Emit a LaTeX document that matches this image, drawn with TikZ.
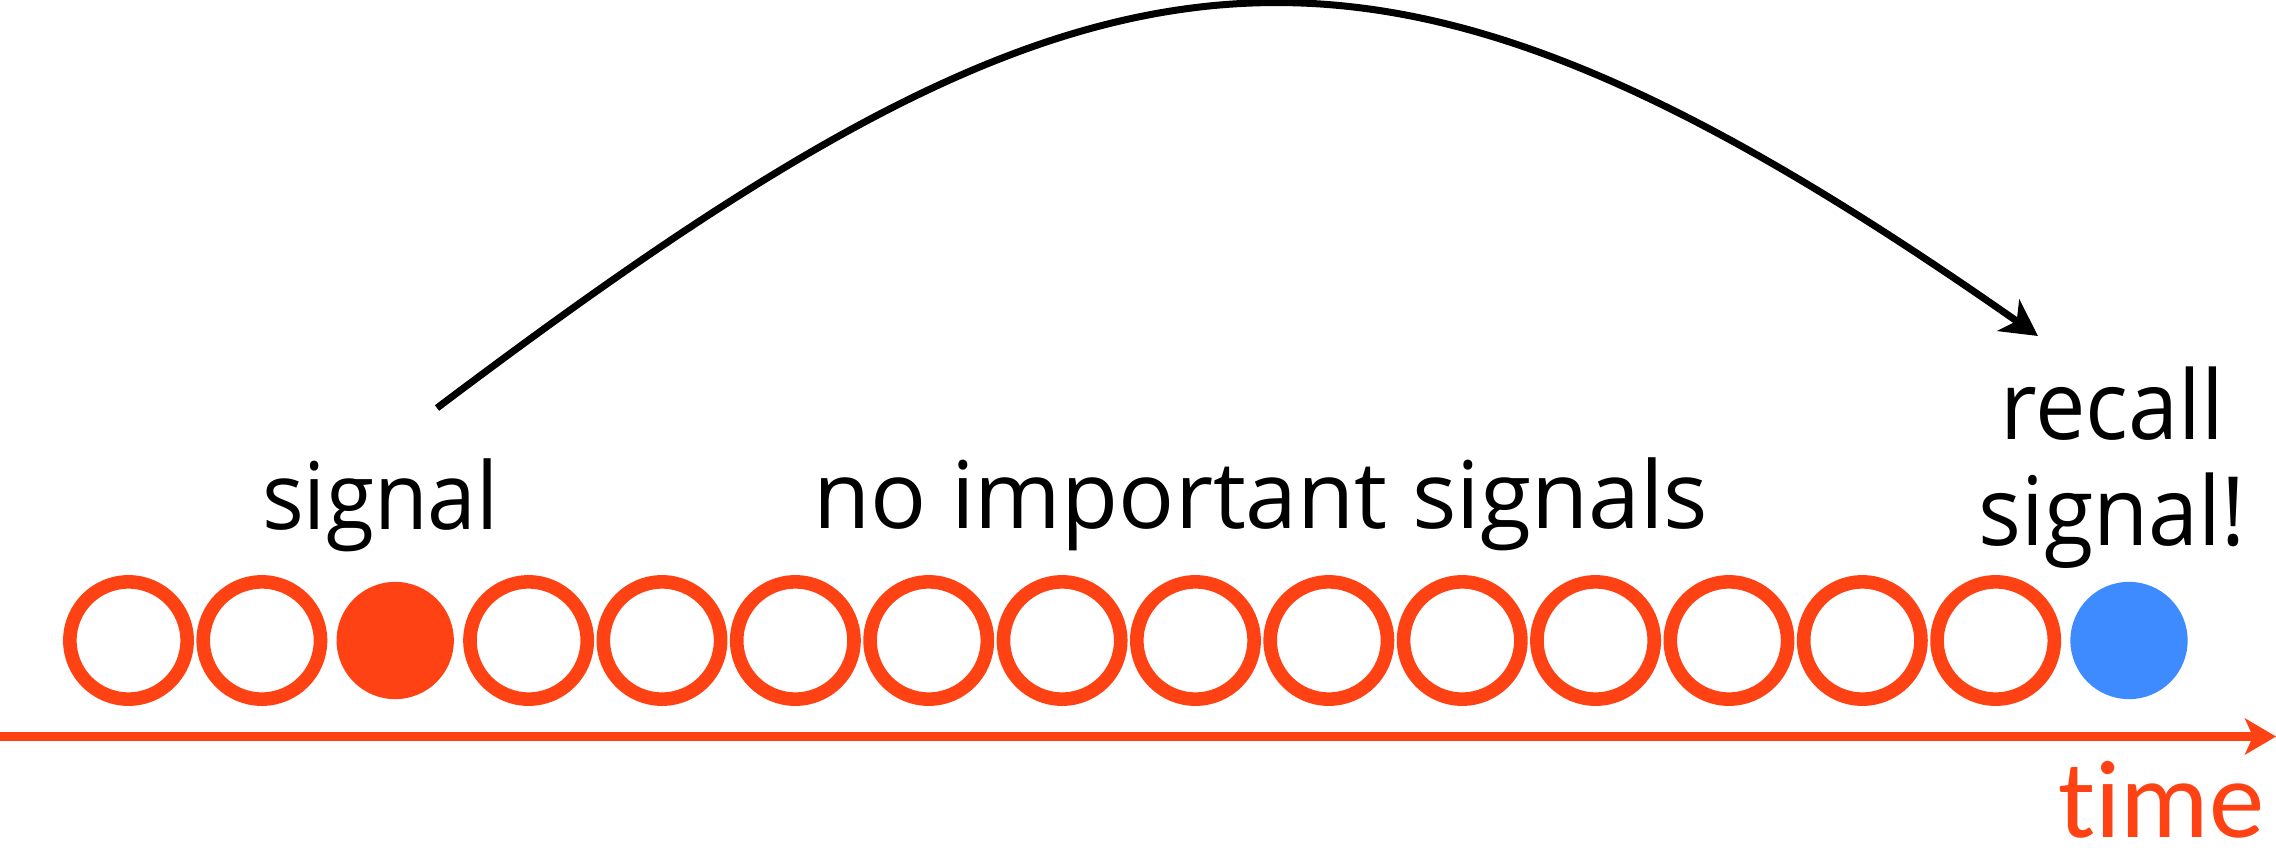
\documentclass[tikz,border=0pt]{standalone}
\usepackage{fontspec}
\setmainfont{Open Sans}[FakeStretch=0.94]
\newfontfamily\quietfont{Open Sans}
\newfontfamily\timefont{Carlito}[Ligatures=NoCommon]
\usetikzlibrary{arrows.meta}
\definecolor{sigorange}{HTML}{FF4214}
\definecolor{recallblue}{HTML}{3E8BFF}

\begin{document}
\begin{tikzpicture}[
    x=0.01cm, y=-0.01cm,
    slot/.style      = {circle, draw=sigorange, line width=1.36mm,
                        minimum size=1.172cm, inner sep=0pt},
    hit/.style       = {circle, fill=sigorange, minimum size=1.172cm, inner sep=0pt},
    query/.style     = {circle, fill=recallblue, minimum size=1.172cm, inner sep=0pt},
    lbl/.style       = {inner sep=0pt, anchor=base,
                        font=\fontsize{26.5}{30.1}\selectfont},
    timeline/.style  = {-{Stealth[length=3.1mm, width=3.6mm, inset=0.8mm]},
                        line width=0.9mm, sigorange},
    recallarc/.style = {-{Stealth[length=3.6mm, width=3.8mm, inset=1mm]},
                        line width=0.7mm, black},
]
\useasboundingbox (0,0) rectangle (2276,851);

% --- time axis ----------------------------------------------------------
\coordinate (tstart) at (0,736.5);
\coordinate (tend)   at (2276,736.5);
\draw[timeline] (tstart) -- (tend);
\node[inner sep=0pt, anchor=base east, text=sigorange,
      font=\timefont\fontsize{31.5}{38}\selectfont] (timelbl) at (2265,837) {time};

% --- input sequence -----------------------------------------------------
\foreach \i in {0,1,3,4,...,14}
  \node[slot] (s\i) at ({128.5+133.37*\i},640.5) {};
\node[hit]   (s2)  at (395.2,640.5) {};
\node[query] (s15) at (2129,640.5)  {};

% --- labels ---------------------------------------------------------------
\node[lbl] (siglbl)   at (380.5,529) {signal};
\node[lbl, font=\quietfont\fontsize{26.5}{30.1}\selectfont]
      (quietlbl) at (1261,528) {no important signals};
% base of a two-line node sits on its last line
\node[lbl, align=center, font=\fontsize{27.2}{30.1}\selectfont]
      (recalllbl) at (2112,545) {recall\\signal!};

% --- long-range dependency ------------------------------------------------
\coordinate (arcfrom) at (437,408);
\coordinate (arcto)   at (2038,336);
\draw[recallarc] (arcfrom) .. controls (1100,-92) and (1358,-140) .. (arcto);

\end{tikzpicture}
\end{document}
